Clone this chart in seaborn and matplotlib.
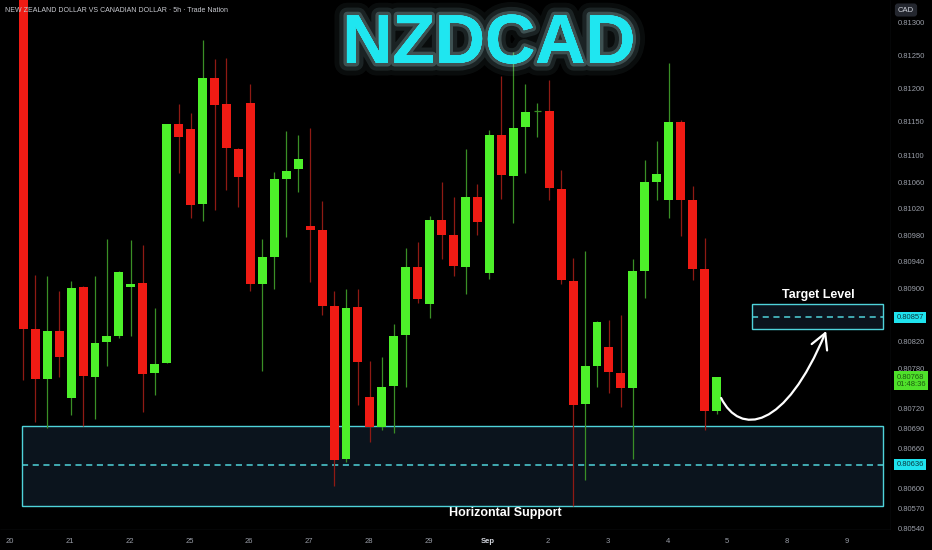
import numpy as np
import pandas as pd
import matplotlib
matplotlib.use("Agg")
import matplotlib.pyplot as plt
import matplotlib.patheffects as pe
from matplotlib.patches import Rectangle, FancyArrowPatch
from matplotlib.path import Path
from matplotlib.transforms import blended_transform_factory
import seaborn as sns

# velas 5h NZDCAD (precios)
opens = [0.81400, 0.80840, 0.80765, 0.80837, 0.80736, 0.80902, 0.80768, 0.80820, 0.80829, 0.80903,
         0.80909, 0.80774, 0.80789, 0.81147, 0.81140, 0.81027, 0.81216, 0.81177, 0.81110, 0.81179,
         0.80907, 0.80948, 0.81065, 0.81080, 0.80994, 0.80988, 0.80874, 0.80645, 0.80873, 0.80738,
         0.80693, 0.80754, 0.80831, 0.80933, 0.80877, 0.81003, 0.80981, 0.80933, 0.81038, 0.80924,
         0.81131, 0.81069, 0.81143, 0.81165, 0.81167, 0.81050, 0.80912, 0.80727, 0.80784, 0.80813,
         0.80774, 0.80751, 0.80927, 0.81060, 0.81033, 0.81150, 0.81033, 0.80930, 0.80717]
highs = [0.81420, 0.80921, 0.80919, 0.80897, 0.80912, 0.80904, 0.80919, 0.80975, 0.80927, 0.80973,
         0.80966, 0.80871, 0.81147, 0.81177, 0.81164, 0.81273, 0.81245, 0.81246, 0.81111, 0.81207,
         0.80975, 0.81075, 0.81137, 0.81131, 0.81141, 0.81032, 0.80897, 0.80900, 0.80900, 0.80792,
         0.80798, 0.80847, 0.80961, 0.80970, 0.81009, 0.81060, 0.81038, 0.81110, 0.81057, 0.81138,
         0.81219, 0.81255, 0.81207, 0.81179, 0.81213, 0.81078, 0.80946, 0.80957, 0.80852, 0.80853,
         0.80861, 0.80945, 0.81093, 0.81122, 0.81239, 0.81153, 0.81054, 0.80976, 0.80768]
lows = [0.80763, 0.80700, 0.80691, 0.80768, 0.80711, 0.80694, 0.80705, 0.80784, 0.80826, 0.80829,
        0.80715, 0.80741, 0.80788, 0.81074, 0.81006, 0.81002, 0.81018, 0.81048, 0.81023, 0.80897,
        0.80777, 0.80900, 0.80978, 0.81045, 0.80910, 0.80861, 0.80604, 0.80640, 0.80726, 0.80670,
        0.80688, 0.80684, 0.80753, 0.80879, 0.80856, 0.80945, 0.80919, 0.80892, 0.80981, 0.80915,
        0.81035, 0.80999, 0.81074, 0.81128, 0.81033, 0.80907, 0.80574, 0.80613, 0.80753, 0.80744,
        0.80723, 0.80645, 0.80886, 0.81033, 0.81006, 0.80979, 0.80913, 0.80688, 0.80712]
closes = [0.80840, 0.80765, 0.80837, 0.80798, 0.80901, 0.80769, 0.80819, 0.80829, 0.80925, 0.80907,
          0.80772, 0.80787, 0.81147, 0.81128, 0.81026, 0.81216, 0.81176, 0.81111, 0.81068, 0.80907,
          0.80948, 0.81065, 0.81077, 0.81095, 0.80988, 0.80874, 0.80643, 0.80871, 0.80790, 0.80693,
          0.80753, 0.80829, 0.80933, 0.80885, 0.81003, 0.80981, 0.80934, 0.81038, 0.81000, 0.81131,
          0.81071, 0.81141, 0.81165, 0.81166, 0.81051, 0.80913, 0.80726, 0.80784, 0.80850, 0.80775,
          0.80751, 0.80927, 0.81060, 0.81072, 0.81150, 0.81033, 0.80930, 0.80717, 0.80768]

day_labels = ['20', '21', '22', '25', '26', '27', '28', '29', 'Sep', '2', '3', '4', '5', '8', '9']
price_ticks = [0.81300, 0.81250, 0.81200, 0.81150, 0.81100, 0.81060, 0.81020, 0.80980, 0.80940,
               0.80900, 0.80820, 0.80780, 0.80720, 0.80690, 0.80660, 0.80600, 0.80570, 0.80540]

support_zone = (0.80574, 0.80694)
support_level = 0.80636
target_zone = (0.80840, 0.80877)
target_level = 0.80857
last_price = 0.80768

df = pd.DataFrame({'open': opens, 'high': highs, 'low': lows, 'close': closes})
df['idx'] = np.arange(len(df))
df['up'] = df['close'] >= df['open']

sns.set_theme(style='dark', rc={'axes.facecolor': 'black', 'figure.facecolor': 'black',
                                'axes.edgecolor': 'black'})
plt.rcParams['font.family'] = ['Liberation Sans', 'DejaVu Sans']

GREEN = '#4df02a'
RED = '#f01b14'
CYAN = '#4fd3da'

fig = plt.figure(figsize=(9.32, 5.5), dpi=100)
ax = fig.add_axes([0, 20 / 550, 891 / 932, 530 / 550])
ax.set_facecolor('black')

# zonas
ax.add_patch(Rectangle((-0.1, support_zone[0]), 72.05, support_zone[1] - support_zone[0],
                       facecolor='#0b141d', edgecolor=CYAN, lw=1.0, zorder=1))
ax.hlines(support_level, -0.1, 71.95, colors=CYAN, linestyles=(0, (4, 3)), lw=1.1, zorder=1.5)
ax.add_patch(Rectangle((60.98, target_zone[0]), 10.97, target_zone[1] - target_zone[0],
                       facecolor='#0b141d', edgecolor=CYAN, lw=1.0, zorder=1))
ax.hlines(target_level, 60.98, 71.95, colors=CYAN, linestyles=(0, (4, 3)), lw=1.1, zorder=1.5)

# velas
for _, r in df.iterrows():
    col = GREEN if r['up'] else RED
    wick = '#3a8f26' if r['up'] else '#8f1a14'
    ax.vlines(r['idx'], r['low'], r['high'], colors=wick, lw=0.9, zorder=2)
    lo, hi = min(r['open'], r['close']), max(r['open'], r['close'])
    if hi - lo < 0.00002:
        ax.hlines(hi, r['idx'] - 0.3, r['idx'] + 0.3, colors=wick, lw=0.9, zorder=3)
    else:
        ax.bar(r['idx'], hi - lo, bottom=lo, width=0.75, color=col,
               edgecolor='none', linewidth=0, zorder=3)

ax.set_xlim(-1.95, 72.6)
ax.set_ylim(0.80538, 0.81333)

ax.yaxis.tick_right()
ax.set_yticks(price_ticks)
ax.set_yticklabels([f'{p:.5f}' for p in price_ticks])
ax.tick_params(axis='y', labelsize=5.5, labelcolor='#9a9ea8', length=0, pad=5)
ax.set_xticks([-1.1 + 5 * k for k in range(len(day_labels))])
ax.set_xticklabels(day_labels)
ax.tick_params(axis='x', labelsize=5.5, labelcolor='#9a9ea8', length=0, pad=6)
for t in ax.get_xticklabels():
    if t.get_text() == 'Sep':
        t.set_color('#d1d4dc')
        t.set_fontweight('bold')
ax.grid(False)
for s in ax.spines.values():
    s.set_visible(False)
ax.axvline(72.6, color='#1c1f27', lw=1)
ax.axhline(0.80538, color='#1c1f27', lw=1)

# etiquetas de precio resaltadas
tr = blended_transform_factory(ax.transAxes, ax.transData)
ax.text(1.006, target_level, f'{target_level:.5f}', transform=tr, ha='left', va='center',
        fontsize=5.5, color='#0a3a40', bbox=dict(boxstyle='square,pad=0.25', fc='#1fe3ee', ec='none'))
ax.text(1.006, support_level, f'{support_level:.5f}', transform=tr, ha='left', va='center',
        fontsize=5.5, color='#0a3a40', bbox=dict(boxstyle='square,pad=0.25', fc='#1fe3ee', ec='none'))
ax.text(1.006, last_price - 0.00006, f'{last_price:.5f}\n01:48:36', transform=tr, ha='left', va='center',
        fontsize=5.5, color='#1d5a10', linespacing=1.0,
        bbox=dict(boxstyle='square,pad=0.3', fc='#4fe12a', ec='none'))
fig.text(906 / 932, 1 - 10 / 550, 'CAD', ha='center', va='center', fontsize=5.5, color='#d1d4dc',
         bbox=dict(boxstyle='round,pad=0.4', fc='#24272f', ec='none'))

# titulo
fig.text(5 / 932, 1 - 10 / 550, 'NEW ZEALAND DOLLAR VS CANADIAN DOLLAR · 5h · Trade Nation',
         ha='left', va='center', fontsize=5, color='#c8cad0')
fig.text(489 / 932, 1 - 45 / 550, 'NZDCAD', ha='center', va='center', fontsize=50,
         fontweight='bold', color='#1fe6f0',
         path_effects=[pe.withStroke(linewidth=18, foreground='#bff6f8', alpha=0.05),
                       pe.withStroke(linewidth=11, foreground='#bff6f8', alpha=0.10),
                       pe.withStroke(linewidth=5, foreground='#bff6f8', alpha=0.22),
                       pe.Normal()])

# textos de zonas
ax.text(66.5, 0.80891, 'Target Level', ha='center', va='center', fontsize=9,
        fontweight='bold', color='white')
ax.text(40.3, 0.80563, 'Horizontal Support', ha='center', va='center', fontsize=9,
        fontweight='bold', color='white')

# flecha de proyeccion
def px(x, y):
    return ((x - 23.3) / 11.95, 0.81333 - 0.000015 * y)

verts = [px(721, 398), px(740, 436), px(785, 430), px(826, 331)]
path = Path(verts, [Path.MOVETO, Path.CURVE4, Path.CURVE4, Path.CURVE4])
arrow = FancyArrowPatch(path=path, arrowstyle='->,head_length=0.55,head_width=0.3',
                        mutation_scale=20, color='white', lw=1.6, zorder=5)
ax.add_patch(arrow)

plt.savefig('out.png', dpi=100, facecolor='black')
